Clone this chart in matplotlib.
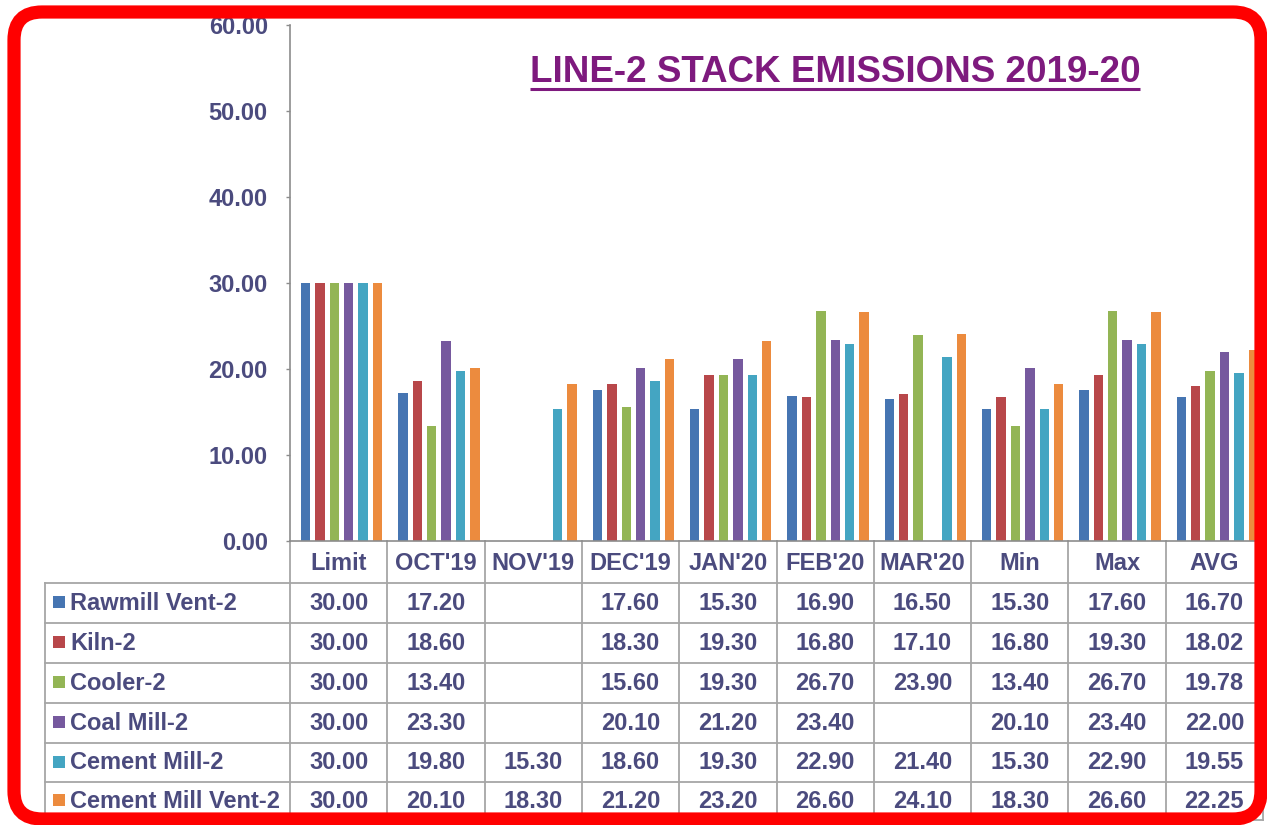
import numpy as np
import matplotlib
matplotlib.use('Agg')
import matplotlib.pyplot as plt
from matplotlib.patches import FancyBboxPatch, Rectangle

# ---------------- data ----------------
categories = ["Limit", "OCT'19", "NOV'19", "DEC'19", "JAN'20", "FEB'20",
              "MAR'20", "Min", "Max", "AVG"]
series_names = ["Rawmill Vent-2", "Kiln-2", "Cooler-2", "Coal Mill-2",
                "Cement Mill-2", "Cement Mill Vent-2"]
nan = np.nan
rawmill_vent = [30.00, 17.20, nan, 17.60, 15.30, 16.90, 16.50, 15.30, 17.60, 16.70]
kiln = [30.00, 18.60, nan, 18.30, 19.30, 16.80, 17.10, 16.80, 19.30, 18.02]
cooler = [30.00, 13.40, nan, 15.60, 19.30, 26.70, 23.90, 13.40, 26.70, 19.78]
coal_mill = [30.00, 23.30, nan, 20.10, 21.20, 23.40, nan, 20.10, 23.40, 22.00]
cement_mill = [30.00, 19.80, 15.30, 18.60, 19.30, 22.90, 21.40, 15.30, 22.90, 19.55]
cement_mill_vent = [30.00, 20.10, 18.30, 21.20, 23.20, 26.60, 24.10, 18.30, 26.60, 22.25]
yticks = [0, 10, 20, 30, 40, 50, 60]
title = "LINE-2 STACK EMISSIONS 2019-20"

series = [rawmill_vent, kiln, cooler, coal_mill, cement_mill, cement_mill_vent]
colors = ['#4675B2', '#B8474A', '#93B555', '#76599E', '#44A5C2', '#EC8B3E']
text_color = '#4B4B7E'
grid_color = '#A6A6A6'
FONT = 'Liberation Sans'

W, H = 1267, 825
fig = plt.figure(figsize=(W / 100, H / 100), dpi=100)
fig.patch.set_facecolor('white')

# overlay axes in pixel coordinates (y downward) for table & title
ov = fig.add_axes([0, 0, 1, 1], zorder=0)
ov.set_xlim(0, W)
ov.set_ylim(H, 0)
ov.axis('off')

# main bar axes
ax_left, ax_right = 290, 290 + 10 * 97.3
ax_bottom, ax_top = 541, 25
ax = fig.add_axes([ax_left / W, (H - ax_bottom) / H,
                   (ax_right - ax_left) / W, (ax_bottom - ax_top) / H], zorder=1)
ax.patch.set_alpha(0)
n = len(categories)
x = np.arange(n)
pitch, bw = 0.148, 0.096
for i, (vals, c) in enumerate(zip(series, colors)):
    ax.bar(x + 0.03 + (i - 2.5) * pitch, vals, width=bw, color=c, zorder=2)
ax.set_xlim(-0.5, n - 0.5)
ax.set_ylim(0, 60)
ax.set_yticks(yticks)
ax.set_yticklabels([f"{v:.2f}" for v in yticks], fontsize=17, fontweight='bold',
                   color=text_color, fontfamily=FONT)
ax.set_xticks([])
for s in ['top', 'right']:
    ax.spines[s].set_visible(False)
for s in ['left', 'bottom']:
    ax.spines[s].set_color('#8C8C8C')
    ax.spines[s].set_linewidth(1.2)
ax.tick_params(axis='y', direction='out', length=3, width=1, color='#8C8C8C', pad=13)

# ---------------- data table ----------------
def px_x(v):
    return ax.transData.transform((v, 0))[0]

bounds = [px_x(i - 0.5) for i in range(n + 1)]
centers = [px_x(i) for i in range(n)]
table_left = 45
row_lines = [583, 623, 663, 703, 743, 782, 820]
header_cy = 563
row_cy = [(row_lines[k] + row_lines[k + 1]) / 2 for k in range(len(series))]

for yl in row_lines:
    ov.plot([table_left, bounds[-1]], [yl, yl], color=grid_color, lw=1.3, zorder=1)
ov.plot([table_left, table_left], [row_lines[0], row_lines[-1]], color=grid_color, lw=1.3)
for bx in bounds:
    ov.plot([bx, bx], [ax_bottom, row_lines[-1]], color=grid_color, lw=1.3)

tkw = dict(fontsize=17, fontweight='bold', color=text_color, fontfamily=FONT)
for cx, lab in zip(centers, categories):
    ov.text(cx, header_cy, lab, ha='center', va='center', **tkw)

for k, (name, vals, c) in enumerate(zip(series_names, series, colors)):
    cy = row_cy[k]
    ov.add_patch(Rectangle((53, cy - 7), 12, 12, facecolor=c, edgecolor='none'))
    ov.text(70, cy, name, ha='left', va='center', **tkw)
    for cx, v in zip(centers, vals):
        if not np.isnan(v):
            ov.text(cx, cy, f"{v:.2f}", ha='center', va='center', **tkw)

# ---------------- title ----------------
t = ov.text(835, 72, title, ha='center', va='center', fontsize=26.5,
            fontweight='bold', color='#7E1A7E', fontfamily=FONT)
fig.canvas.draw()
bb = t.get_window_extent()
ov.plot([bb.x0, bb.x1], [89, 89], color='#7E1A7E', lw=2.2, solid_capstyle='butt')

# ---------------- red rounded frame ----------------
top = fig.add_axes([0, 0, 1, 1], zorder=5)
top.set_xlim(0, W)
top.set_ylim(H, 0)
top.axis('off')
top.patch.set_alpha(0)
frame = FancyBboxPatch((14, 12), 1247, 807, boxstyle="round,pad=0,rounding_size=28",
                       facecolor='none', edgecolor='#FF0000', linewidth=9.5)
top.add_patch(frame)

fig.savefig('out.png', dpi=100, facecolor='white')
